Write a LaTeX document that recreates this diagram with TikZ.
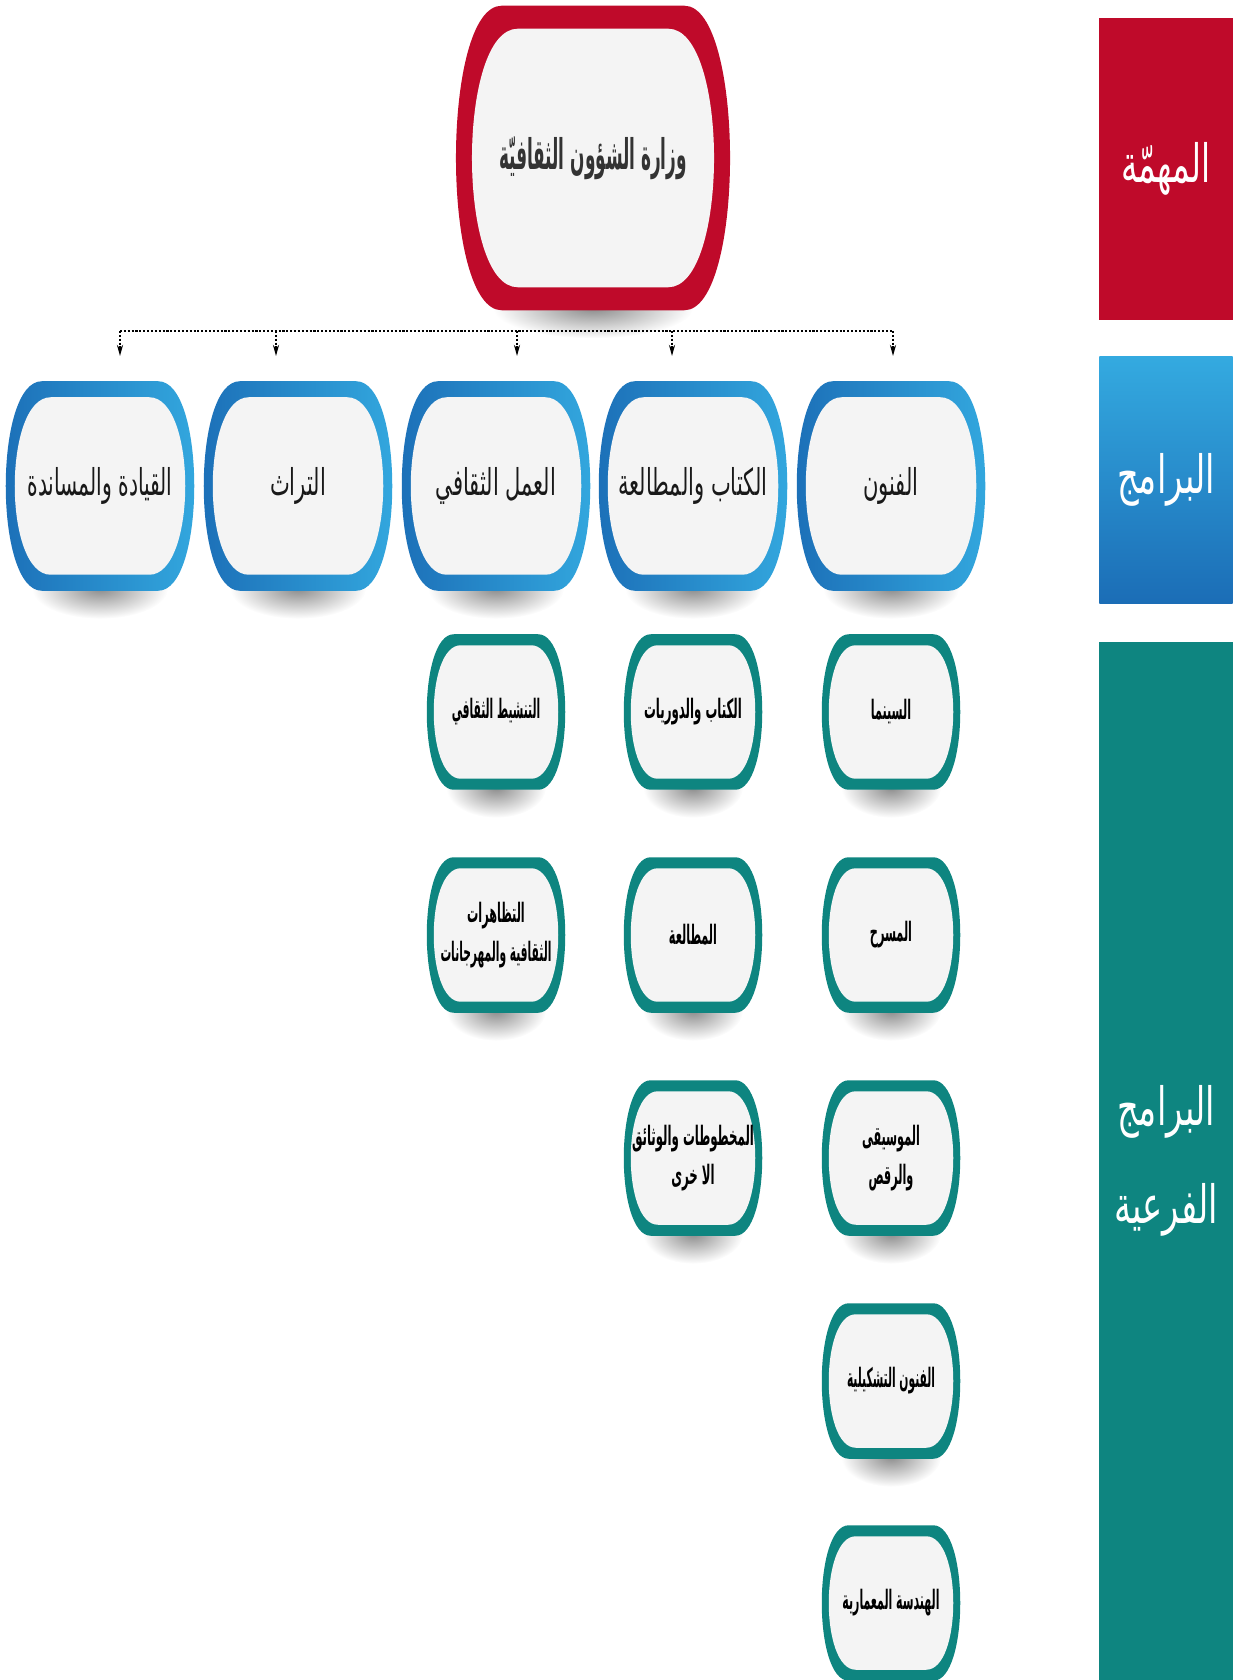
\documentclass[tikz,border=0pt]{standalone}
\usepackage{fontspec}
\usepackage{graphicx}
\usetikzlibrary{backgrounds}
\usetikzlibrary{arrows.meta}
\TeXXeTstate=1
\newfontfamily\arabicfont[Script=Arabic]{DejaVu Sans}
\newcommand{\cond}[2]{\scalebox{#1}[1]{#2}}
\definecolor{mred}{HTML}{BF0A2A}
\definecolor{pblue}{HTML}{1B6DB6}
\definecolor{pbluel}{HTML}{34AAE0}
\definecolor{steal}{HTML}{0E8580}
\definecolor{boxfill}{HTML}{F4F4F4}
\newcommand{\barrelpath}[5]{([xshift=#2+#4,yshift=-#5]#1.north west) -- ([xshift=-#2-#4,yshift=-#5]#1.north east) .. controls ([xshift=#3-#4,yshift=-#5]#1.north east) and ([xshift=#3-#4,yshift=#5]#1.south east) .. ([xshift=-#2-#4,yshift=#5]#1.south east) -- ([xshift=#2+#4,yshift=#5]#1.south west) .. controls ([xshift=-#3+#4,yshift=#5]#1.south west) and ([xshift=-#3+#4,yshift=-#5]#1.north west) .. cycle}
\tikzset{
  mission/.style={minimum width=2.73cm, minimum height=3.03cm, inner sep=0pt, text=black!80, font=\arabicfont\bfseries\fontsize{12}{14}\selectfont},
  prog/.style={minimum width=1.87cm, minimum height=2.08cm, inner sep=0pt, text=black!90, font=\arabicfont\fontsize{10.5}{12}\selectfont},
  subprog/.style={minimum width=1.37cm, minimum height=1.54cm, inner sep=0pt, align=center, text=black, font=\arabicfont\bfseries\fontsize{7.6}{11}\selectfont},
  band/.style={minimum width=1.33cm, inner sep=0pt, align=center, text=white, font=\arabicfont\fontsize{15}{28}\selectfont},
  bus/.style={line width=0.6pt, dash pattern=on 0.6pt off 0.5pt},
  drop/.style={bus, -{Stealth[length=0.11cm, width=0.06cm]}},
}

\begin{document}
\begin{tikzpicture}[x=0.01cm, y=-0.01cm]
  \useasboundingbox (0,0) rectangle (1235,1680);
  % ministry
  \node[mission] (wizara) at (593,158) {\cond{0.4}{\beginR وزارة الشؤون الثقافيّة\endR}};
  % programs
  \node[prog] (funun) at (891,486) {\cond{0.57}{\beginR الفنون\endR}};
  \node[prog] (kitab) at (693,486) {\cond{0.57}{\beginR الكتاب والمطالعة\endR}};
  \node[prog] (amal) at (496,486) {\cond{0.57}{\beginR العمل الثقافي\endR}};
  \node[prog] (turath) at (298,486) {\cond{0.57}{\beginR التراث\endR}};
  \node[prog] (qiyada) at (100,486) {\cond{0.55}{\beginR القيادة والمساندة\endR}};
  % sub programs
  \node[subprog] (cinema) at (891,712) {\cond{0.42}{\beginR السينما\endR}};
  \node[subprog] (masrah) at (891,935) {\cond{0.42}{\beginR المسرح\endR}};
  \node[subprog] (musiqa) at (891,1158) {\cond{0.42}{\beginR الموسيقى\endR}\\\cond{0.42}{\beginR والرقص\endR}};
  \node[subprog] (tashkili) at (891,1381) {\cond{0.40}{\beginR الفنون التشكيلية\endR}};
  \node[subprog] (handasa) at (891,1603) {\cond{0.41}{\beginR الهندسة المعمارية\endR}};
  \node[subprog] (dawriyat) at (693,712) {\cond{0.44}{\beginR الكتاب والدوريات\endR}};
  \node[subprog] (mutalaa) at (693,935) {\cond{0.42}{\beginR المطالعة\endR}};
  \node[subprog] (makhtutat) at (693,1158) {\cond{0.44}{\beginR المخطوطات والوثائق\endR}\\\cond{0.44}{\beginR الا خرى\endR}};
  \node[subprog] (tanshit) at (496,712) {\cond{0.40}{\beginR التنشيط الثقافي\endR}};
  \node[subprog] (tazahurat) at (496,935) {\cond{0.42}{\beginR التظاهرات\endR}\\\cond{0.40}{\beginR الثقافية والمهرجانات\endR}};
  % side bands
  \node[band, fill=mred, minimum height=3.02cm] (mission) at (1166,169) {\cond{0.62}{\beginR المهمّة\endR}};
  \node[band, top color=pbluel, bottom color=pblue, minimum height=2.47cm] (programs) at (1166,480) {\cond{0.64}{\beginR البرامج\endR}};
  \node[band, fill=steal, minimum height=10.37cm] (subprograms) at (1166,1161) {\cond{0.64}{\beginR البرامج\endR}\\\cond{0.64}{\beginR الفرعية\endR}};
  % dotted bus
  \coordinate (busl) at (120,331);
  \coordinate (busr) at (893,331);
  \draw[bus] (busl) -- (busr);
  \foreach \a/\x in {a1/893, a2/672, a3/517, a4/276, a5/120} {
    \coordinate (\a) at (\x,356);
    \draw[drop] (\a |- busl) -- (\a);
  }
  \begin{scope}[on background layer]
    \foreach \n/\r in {wizara/1.0cm, funun/0.68cm, kitab/0.68cm, amal/0.68cm, turath/0.68cm, qiyada/0.68cm, cinema/0.5cm, masrah/0.5cm, musiqa/0.5cm, tashkili/0.5cm, handasa/0.5cm, dawriyat/0.5cm, mutalaa/0.5cm, makhtutat/0.5cm, tanshit/0.5cm, tazahurat/0.5cm}
      \shade[inner color=black!45, outer color=white] ([yshift=0.02cm]\n.south) ellipse [x radius=\r, y radius=0.3cm];
    \fill[mred] \barrelpath{wizara}{0.46cm}{0.15cm}{0cm}{0cm};
    \fill[boxfill] \barrelpath{wizara}{0.46cm}{0.15cm}{0.16cm}{0.23cm};
    \foreach \n in {funun, kitab, amal, turath, qiyada} {
      \shade[left color=pblue, right color=pbluel] \barrelpath{\n}{0.36cm}{0.12cm}{0cm}{0cm};
      \fill[boxfill] \barrelpath{\n}{0.36cm}{0.12cm}{0.09cm}{0.16cm};
    }
    \foreach \n in {cinema, masrah, musiqa, tashkili, handasa, dawriyat, mutalaa, makhtutat, tanshit, tazahurat} {
      \fill[steal] \barrelpath{\n}{0.27cm}{0.09cm}{0cm}{0cm};
      \fill[boxfill] \barrelpath{\n}{0.27cm}{0.09cm}{0.07cm}{0.11cm};
    }
  \end{scope}
\end{tikzpicture}
\end{document}
